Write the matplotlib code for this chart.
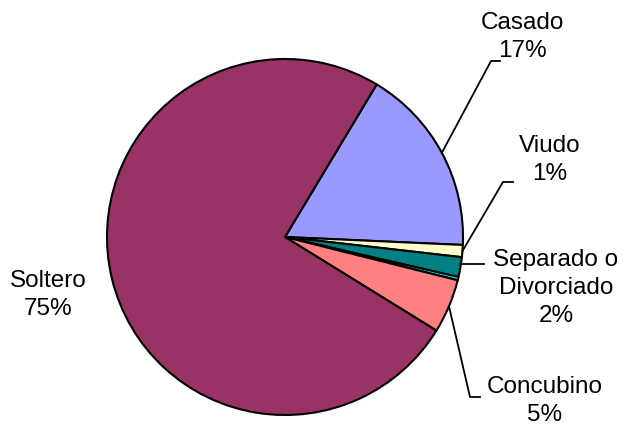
import numpy as np
import matplotlib.pyplot as plt

plt.rcParams['font.family'] = ['Liberation Sans', 'DejaVu Sans']

# estado civil
categories = ["Casado", "Viudo", "Separado o\nDivorciado", "", "Concubino", "Soltero"]
values = [17.1, 1.1, 1.8, 0.3, 4.9, 74.8]
pct_labels = ["17%", "1%", "2%", "", "5%", "75%"]
colors = ["#9999FF", "#FFFFCC", "#008080", "#00FFFF", "#FF8080", "#993366"]

fig = plt.figure(figsize=(6.37, 4.35), dpi=100)
ax = fig.add_axes([0, 0, 1, 1])

cx, cy, r = 285, 197, 178
wedges, _ = ax.pie(values, colors=colors, startangle=59, counterclock=False,
                   center=(cx, cy), radius=r, frame=True,
                   wedgeprops=dict(edgecolor="black", linewidth=1.5))
ax.set_xlim(0, 637)
ax.set_ylim(0, 435)
ax.set_aspect("equal")
ax.axis("off")

# label positions (text centre) and leader elbow points
label_pos = {0: (522, 398), 1: (550, 275), 2: (556, 147), 4: (545, 34), 5: (48, 140)}
elbows = {0: [(491, 373), (500, 373)], 1: [(503, 252), (513, 252)],
          2: [(484, 170)], 4: [(470, 37), (480, 37)]}

for i, w in enumerate(wedges):
    if i not in label_pos:
        continue
    x, y = label_pos[i]
    ax.text(x, y, categories[i] + "\n" + pct_labels[i], ha="center", va="center",
            fontsize=17.5, linespacing=1.35)
    if i in elbows:
        mid = np.deg2rad((w.theta1 + w.theta2) / 2)
        px, py = cx + r * np.cos(mid), cy + r * np.sin(mid)
        pts = [(px, py)] + elbows[i]
        if i == 2:
            pts = [(px, 170)] + elbows[i]
        xs, ys = zip(*pts)
        ax.plot(xs, ys, color="black", linewidth=1.3)

fig.savefig("out.png", dpi=100)
